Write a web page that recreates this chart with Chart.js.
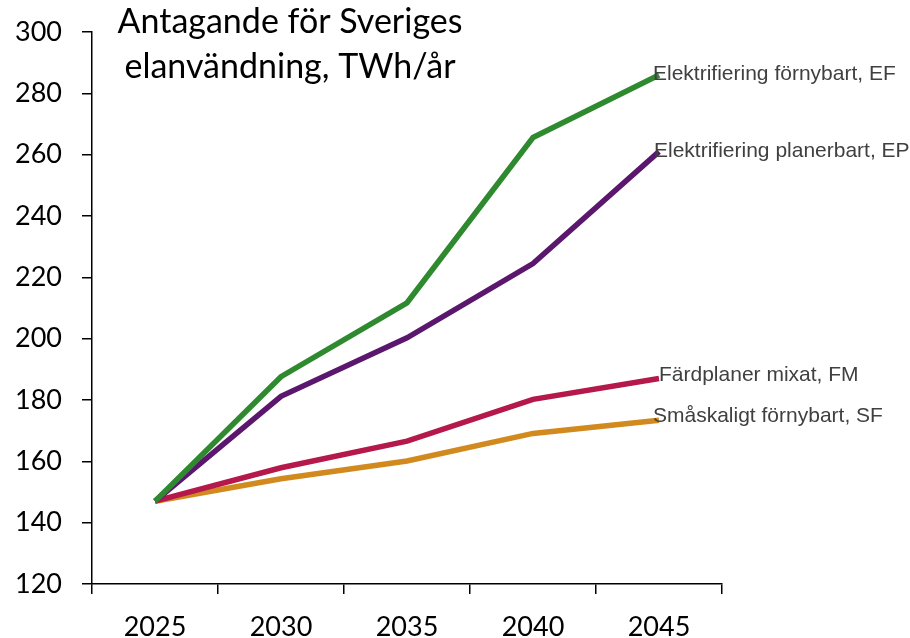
<!DOCTYPE html>
<html>
<head>
<meta charset="utf-8">
<script src="https://cdn.jsdelivr.net/npm/chart.js@4/dist/chart.umd.min.js"></script>
<style>
  body { margin: 0; background: #fff; }
</style>
</head>
<body>
<canvas id="elChart" width="910" height="638"></canvas>
<script>
// Scenarier för elanvändning, TWh/år
const years = ['2025', '2030', '2035', '2040', '2045'];
const elektrifieringFornybart = [147, 187.6, 211.7, 265.6, 286];
const elektrifieringPlanerbart = [147, 181.2, 200.3, 224.5, 261];
const fardplanerMixat = [147, 157.9, 166.6, 180.2, 187];
const smaskaligtFornybart = [147, 154.3, 160.1, 169.1, 173.4];
const yTicks = [120, 140, 160, 180, 200, 220, 240, 260, 280, 300];

const titleLines = ['Antagande för Sveriges', 'elanvändning, TWh/år'];

// etikett i slutet av varje linje
const endLabels = {
    id: 'endLabels',
    afterDatasetsDraw(chart) {
        const ctx = chart.ctx;
        ctx.save();
        ctx.font = '21px "Liberation Sans", Arial, sans-serif';
        ctx.fillStyle = '#404040';
        ctx.textBaseline = 'middle';
        ctx.textAlign = 'left';
        chart.data.datasets.forEach(function(ds, i) {
            const meta = chart.getDatasetMeta(i);
            const last = meta.data[meta.data.length - 1];
            ctx.fillText(ds.label, last.x + ds.labelDx, last.y + ds.labelDy);
        });
        ctx.restore();
    }
};

// rubriken ligger inne i diagramytan
const innerTitle = {
    id: 'innerTitle',
    afterDraw(chart) {
        const ctx = chart.ctx;
        ctx.save();
        ctx.font = '34px Lato, sans-serif';
        ctx.fillStyle = '#000';
        ctx.textAlign = 'center';
        ctx.textBaseline = 'alphabetic';
        ctx.fillText(titleLines[0], 290, 33);
        ctx.fillText(titleLines[1], 290, 78);
        ctx.restore();
    }
};

const ctx = document.getElementById('elChart').getContext('2d');
new Chart(ctx, {
    type: 'line',
    data: {
        labels: years,
        datasets: [
            { label: 'Elektrifiering förnybart, EF', data: elektrifieringFornybart, borderColor: '#2f8a2f', labelDx: -6, labelDy: -1 },
            { label: 'Elektrifiering planerbart, EP', data: elektrifieringPlanerbart, borderColor: '#5b176e', labelDx: -5, labelDy: 0 },
            { label: 'Färdplaner mixat, FM', data: fardplanerMixat, borderColor: '#b5184b', labelDx: 0, labelDy: -3 },
            { label: 'Småskaligt förnybart, SF', data: smaskaligtFornybart, borderColor: '#d28a1e', labelDx: -6, labelDy: -4 }
        ].map(function(ds) {
            return Object.assign(ds, {
                borderWidth: 5.5,
                pointRadius: 0,
                pointHoverRadius: 0,
                fill: false,
                tension: 0
            });
        })
    },
    options: {
        responsive: false,
        animation: false,
        events: [],
        layout: { padding: { top: 32, right: 188, left: 0, bottom: 0 } },
        plugins: {
            legend: { display: false },
            tooltip: { enabled: false }
        },
        scales: {
            x: {
                offset: true,
                grid: { offset: true, drawOnChartArea: false, tickLength: 10, color: '#000', lineWidth: 1.5 },
                border: { color: '#000', width: 1.5 },
                ticks: { color: '#000', font: { family: 'Lato', size: 27 }, padding: 17, maxRotation: 0 },
                afterFit: function(scale) { scale.height = 54; }
            },
            y: {
                min: 120,
                max: 300,
                afterBuildTicks: function(scale) { scale.ticks = yTicks.map(v => ({ value: v })); },
                grid: { drawOnChartArea: false, tickLength: 10, color: '#000', lineWidth: 1.5 },
                border: { color: '#000', width: 1.5 },
                ticks: { color: '#000', font: { family: 'Lato', size: 27 }, padding: 20 },
                afterFit: function(scale) {
                    scale.width = 92;
                    // tick-padding ska inte tränga ner diagramytan
                    scale.paddingTop = 16;
                    scale.paddingBottom = 16;
                }
            }
        }
    },
    plugins: [endLabels, innerTitle]
});
</script>
</body>
</html>
